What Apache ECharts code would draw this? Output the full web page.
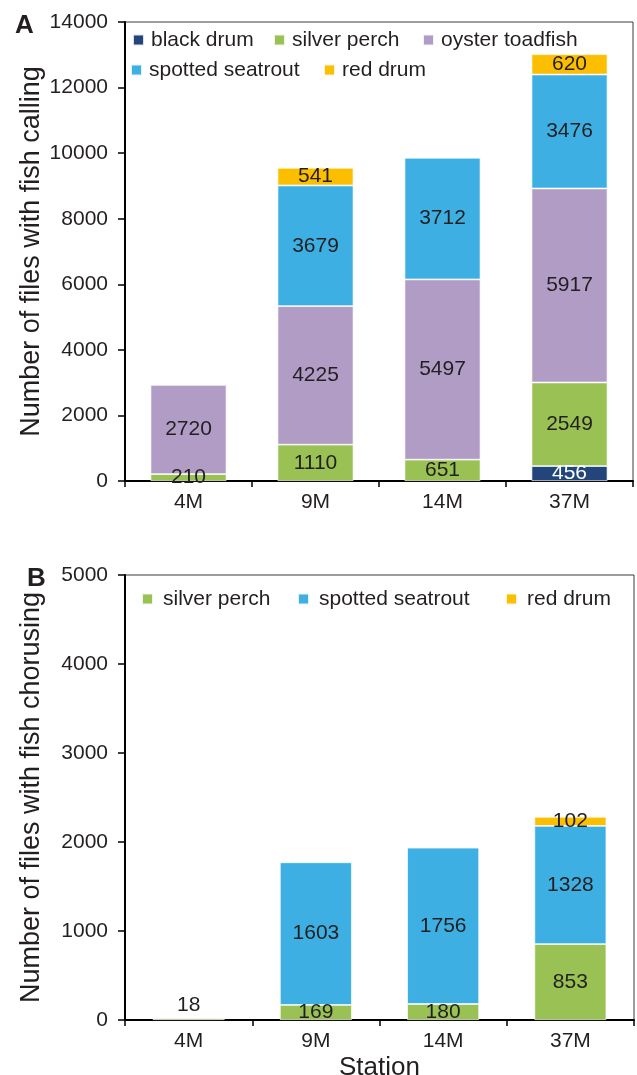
<!DOCTYPE html>
<html>
<head>
<meta charset="utf-8">
<script src="https://cdn.jsdelivr.net/npm/echarts@6/dist/echarts.min.js"></script>
<style>
  html, body { margin: 0; padding: 0; background: #fff; }
  #chart { width: 637px; height: 1075px; }
</style>
</head>
<body>
<div id="chart"></div>
<script>
// Stations along the transect
const stations = ['4M', '9M', '14M', '37M'];

// Panel A: files with fish calling
const callBlackDrum = [0, 0, 0, 456];
const callSilverPerch = [210, 1110, 651, 2549];
const callOysterToadfish = [2720, 4225, 5497, 5917];
const callSpottedSeatrout = [0, 3679, 3712, 3476];
const callRedDrum = [0, 541, 0, 620];

// Panel B: files with fish chorusing
const chorSilverPerch = [18, 169, 180, 853];
const chorSpottedSeatrout = [0, 1603, 1756, 1328];
const chorRedDrum = [0, 0, 0, 102];

// Axis ticks
const callTicks = { min: 0, max: 14000, step: 2000 };
const chorTicks = { min: 0, max: 5000, step: 1000 };

const COLORS = {
  'black drum': '#22467c',
  'silver perch': '#99c153',
  'oyster toadfish': '#b19cc5',
  'spotted seatrout': '#3eafe3',
  'red drum': '#fcbf00'
};

const FONT = '"Liberation Sans", Arial, Helvetica, sans-serif';
const INK = '#231f20';

// zero means no segment for that station
const toData = arr => arr.map(v => (v === 0 ? '-' : v));

function barSeries(name, values, axis, stack, barWidth, labelColor) {
  return {
    type: 'bar',
    name: name,
    stack: stack,
    xAxisIndex: axis,
    yAxisIndex: axis,
    barWidth: barWidth,
    data: toData(values).map(v =>
      // slivers too thin to hold their number carry it above
      (v !== '-' && v < 50) ? { value: v, label: { position: 'top', distance: 3 } } : v
    ),
    itemStyle: {
      color: COLORS[name],
      borderColor: 'rgba(255,255,255,0.85)',
      borderWidth: 0.8
    },
    label: {
      show: true,
      position: 'inside',
      color: labelColor || INK,
      fontFamily: FONT,
      fontSize: 21,
      formatter: p => (p.value ? String(p.value) : '')
    },
    emphasis: { disabled: true }
  };
}

function legendItem(name, left, centerY, textGap) {
  return {
    data: [name],
    left: left,
    top: centerY - 11,
    padding: 0,
    itemWidth: 11,
    itemHeight: 11,
    icon: 'rect',
    selectedMode: false,
    textStyle: {
      fontFamily: FONT,
      fontSize: 21,
      color: INK,
      lineHeight: 22,
      padding: [0, 0, 0, textGap]
    }
  };
}

function catAxis(grid, showName) {
  return {
    type: 'category',
    gridIndex: grid,
    data: stations,
    boundaryGap: true,
    axisLine: { lineStyle: { color: '#000', width: 2 } },
    axisTick: { show: true, length: 6, interval: 0, lineStyle: { color: '#000', width: 1.5 } },
    axisLabel: { fontFamily: FONT, fontSize: 21, color: INK, margin: 11 },
    name: showName ? 'Station' : '',
    nameLocation: 'middle',
    nameGap: 35,
    nameMoveOverlap: false,
    nameTextStyle: { fontFamily: FONT, fontSize: 26, color: INK }
  };
}

function valAxis(grid, ticks, title) {
  return {
    type: 'value',
    gridIndex: grid,
    min: ticks.min,
    max: ticks.max,
    interval: ticks.step,
    splitLine: { show: false },
    axisLine: { show: true, lineStyle: { color: '#000', width: 2 } },
    axisTick: { show: true, length: 7, lineStyle: { color: '#000', width: 1.5 } },
    axisLabel: {
      fontFamily: FONT, fontSize: 21, color: INK, margin: 17,
      formatter: v => String(v)
    },
    name: title,
    nameLocation: 'middle',
    nameGap: 80,
    nameRotate: 90,
    nameMoveOverlap: false,
    nameTextStyle: { fontFamily: FONT, fontSize: 27, color: INK }
  };
}

const chart = echarts.init(document.getElementById('chart'), null, { renderer: 'canvas' });

chart.setOption({
  animation: false,
  backgroundColor: '#fff',
  grid: [
    { left: 125, top: 22, width: 508, height: 459, show: true, borderColor: '#3a3a3a', borderWidth: 1, outerBoundsMode: 'none', containLabel: false },
    { left: 125, top: 575, width: 509, height: 445, show: true, borderColor: '#3a3a3a', borderWidth: 1, outerBoundsMode: 'none', containLabel: false }
  ],
  xAxis: [catAxis(0, false), catAxis(1, true)],
  yAxis: [
    valAxis(0, callTicks, 'Number of files with fish calling'),
    valAxis(1, chorTicks, 'Number of files with fish chorusing')
  ],
  legend: [
    legendItem('black drum', 132, 40, 2),
    legendItem('silver perch', 273, 40, 2),
    legendItem('oyster toadfish', 422, 40, 2),
    legendItem('spotted seatrout', 130, 70, 2),
    legendItem('red drum', 323, 70, 2),
    legendItem('silver perch', 141, 599, 5),
    legendItem('spotted seatrout', 297, 599, 5),
    legendItem('red drum', 505, 599, 5)
  ],
  graphic: [
    { type: 'text', left: 15, top: 13, style: { text: 'A', font: 'bold 26px ' + FONT, fill: INK } },
    { type: 'text', left: 27, top: 566, style: { text: 'B', font: 'bold 26px ' + FONT, fill: INK } }
  ],
  series: [
    barSeries('black drum', callBlackDrum, 0, 'calling', 76, '#ffffff'),
    barSeries('silver perch', callSilverPerch, 0, 'calling', 76),
    barSeries('oyster toadfish', callOysterToadfish, 0, 'calling', 76),
    barSeries('spotted seatrout', callSpottedSeatrout, 0, 'calling', 76),
    barSeries('red drum', callRedDrum, 0, 'calling', 76),
    barSeries('silver perch', chorSilverPerch, 1, 'chorusing', 72),
    barSeries('spotted seatrout', chorSpottedSeatrout, 1, 'chorusing', 72),
    barSeries('red drum', chorRedDrum, 1, 'chorusing', 72)
  ]
});
</script>
</body>
</html>
